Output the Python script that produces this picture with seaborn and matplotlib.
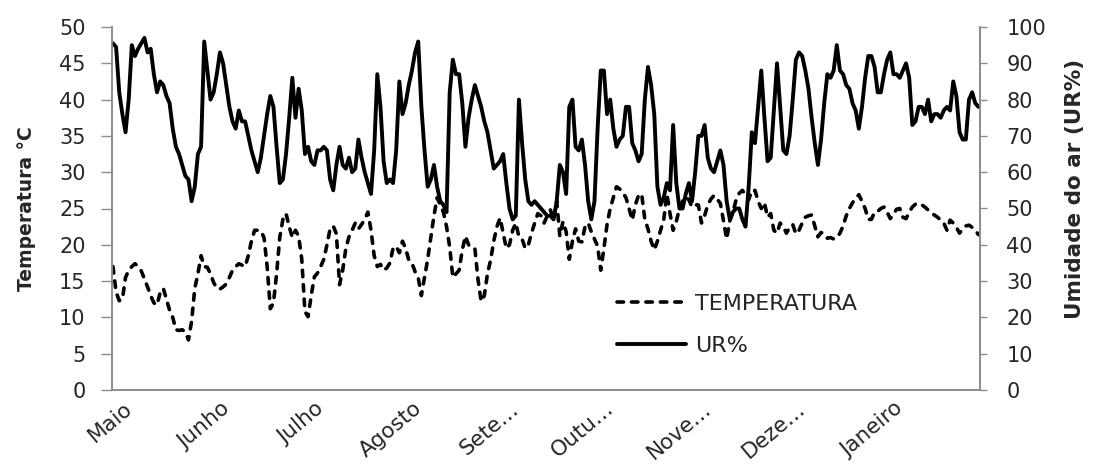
import numpy as np
import pandas as pd
import matplotlib
matplotlib.use("Agg")
import matplotlib.pyplot as plt
import matplotlib.transforms as mtransforms
import seaborn as sns

# ---------------- data ----------------
start_date = "2012-05-01"
end_date = "2013-01-31"

month_labels = ["Maio", "Junho", "Julho", "Agosto", "Sete\u2026", "Outu\u2026",
                "Nove\u2026", "Deze\u2026", "Janeiro"]
month_starts = ["2012-05-01", "2012-06-01", "2012-07-01", "2012-08-01", "2012-09-01",
                "2012-10-01", "2012-11-01", "2012-12-01", "2013-01-01"]

temperatura = [
    # Maio
    17, 13.5, 12.3, 12.5, 15.5, 16.5, 17, 17.4, 17, 16.4, 15.3, 14.2, 13, 12, 11.7, 13.4,
    14, 12.5, 11, 10, 8.3, 8.2, 8.3, 8, 6.9, 9.5, 14, 16, 18.5, 17, 16.9,
    # Junho
    16, 14.8, 14, 13.9, 14.2, 14.6, 15.5, 16.5, 17, 17.4, 17.2, 17, 18.5, 20.5, 22, 22,
    21.9, 21, 17, 11.2, 12, 16, 21, 23.5, 24.3, 22.5, 21, 22, 21.2, 18,
    # Julho
    10.8, 10.1, 13, 15.6, 16.1, 17, 18, 20, 22.2, 22.6, 21.5, 14.5, 16.5, 19.5, 21.1, 22,
    23, 22.2, 22.8, 23.5, 24.5, 22, 18.5, 17, 17.3, 16.5, 16.8, 17.5, 19.5, 19.8, 18.9,
    # Agosto
    20.5, 19.5, 17.9, 17.5, 16.3, 15.5, 13, 15.5, 18, 21, 24, 26.5, 25.5, 24.5, 22.5, 19.7,
    15.5, 16, 16.5, 19.3, 21.2, 20, 19.6, 19.5, 15.2, 12.2, 13, 16, 17.9, 20.5, 22.5,
    # Setembro
    23.7, 21.6, 19.5, 20, 22, 23, 21.1, 20.8, 19.5, 20, 21.6, 23, 24.3, 24, 23, 24,
    24.8, 23.4, 26, 21.2, 23.2, 21.8, 18, 20.5, 22.2, 20.5, 20.4, 22.5, 23, 21.8,
    # Outubro
    20.8, 19.8, 16.5, 19.5, 22.8, 25, 26.5, 28, 27.7, 27.2, 26.5, 25, 23.4, 25.5, 26.8, 27,
    23.5, 22.2, 20.5, 19.3, 20.5, 22, 23.4, 27, 24.3, 22, 23.2, 25, 26, 26.6, 26.2,
    # Novembro
    25.2, 25.5, 25.5, 23, 24, 25.5, 26.3, 26.8, 26.3, 25.7, 23.3, 20.8, 23.3, 24.5, 26.2, 27.1,
    27.5, 26.8, 26.2, 27.5, 27.5, 26, 25, 25.8, 23.8, 24.3, 22, 21.6, 23, 22.5,
    # Dezembro
    21.6, 22.4, 22.8, 21.5, 22, 23, 23.8, 24, 24.1, 22.6, 21.1, 21.7, 21.5, 20.9, 21, 20.8,
    21, 21.6, 22.6, 24, 25, 25.8, 26.4, 26.9, 26, 25, 23.5, 23.5, 24.5, 24.6, 25,
    # Janeiro
    25.2, 24.5, 23.6, 24.2, 24.9, 25, 23.8, 23.6, 24.5, 25.2, 25.6, 25.7, 25.5, 25.2, 24.8, 24.4,
    24.1, 23.8, 23.4, 23, 22, 23.4, 23, 22.4, 21.6, 22.2, 22.6, 22.7, 22.4, 22, 21.4,
]

umidade = [
    # Maio
    95.5, 94.5, 82, 76, 71, 80, 95, 92, 94, 95.5, 97, 93, 94, 87, 82, 85,
    84, 81, 79, 72, 67, 65, 62, 59, 58, 52, 56, 65, 67, 96, 88,
    # Junho
    80, 82, 87, 93, 90, 84, 78, 74, 72, 77, 74, 74, 70, 66, 63, 60,
    64, 70, 76, 81, 78, 67, 57, 58, 65, 75, 86, 75, 83, 77,
    # Julho
    65, 67, 63, 62, 66, 66, 67, 66, 58, 55, 62, 67, 62, 61, 64, 60,
    61, 69, 64, 60, 57, 54, 66, 87, 78, 63, 57, 58, 57, 66, 85,
    # Agosto
    76, 79, 84, 88, 93, 96, 78, 66, 56, 58, 62, 56, 52, 51, 49, 82,
    91, 87, 87, 79, 67, 75, 80, 84, 81, 78, 74, 71, 66, 61, 62,
    # Setembro
    63, 65, 57, 50, 47, 48, 80, 68, 58, 52, 51, 52, 51, 50, 49, 48,
    48, 47, 52, 62, 60, 54, 78, 80, 67, 66, 69, 62, 52, 47,
    # Outubro
    52, 72, 88, 88, 76, 80, 72, 67, 69, 70, 78, 78, 68, 66, 63, 65,
    80, 89, 84, 76, 56, 51, 53, 57, 55, 73, 57, 50, 50, 54, 57,
    # Novembro
    52, 60, 70, 70, 73, 64, 61, 60, 63, 66, 62, 52, 47, 49, 50, 50,
    47, 45, 56, 71, 68, 78, 88, 75, 63, 64, 77, 90, 78, 66,
    # Dezembro
    65, 70, 80, 91, 93, 92, 88, 83, 75, 68, 62, 69, 79, 87, 86, 88,
    95, 88, 87, 84, 83, 79, 77, 72, 78, 86, 92, 92, 89, 82, 82,
    # Janeiro
    87, 91, 93, 87, 87, 86, 88, 90, 86, 73, 74, 78, 78, 76, 80, 74,
    76, 76, 75, 77, 78, 77, 85, 81, 71, 69, 69, 80, 82, 79, 78,
]

temp_ticks = [0, 5, 10, 15, 20, 25, 30, 35, 40, 45, 50]
ur_ticks = [0, 10, 20, 30, 40, 50, 60, 70, 80, 90, 100]

# ---------------- figure ----------------
dates = pd.date_range(start_date, end_date, freq="D")
df = pd.DataFrame({"data": dates, "TEMPERATURA": temperatura, "UR%": umidade})

sns.set_style("white")
plt.rcParams["font.family"] = ["DejaVu Sans"]

fig = plt.figure(figsize=(10.97, 4.67), dpi=100)
ax = fig.add_axes([112 / 1097, 1 - 390 / 467, 868 / 1097, (390 - 27) / 467])
ax2 = ax.twinx()

spine_color = "#8c8c8c"

sns.lineplot(data=df, x="data", y="TEMPERATURA", ax=ax, color="black", linewidth=2.6,
             linestyle=(0, (1.8, 2.2)), dash_capstyle="round", label="TEMPERATURA",
             legend=False)
sns.lineplot(data=df, x="data", y="UR%", ax=ax2, color="black", linewidth=2.8,
             label="UR%", legend=False, solid_joinstyle="round")

for a in (ax, ax2):
    if a.get_legend() is not None:
        a.get_legend().remove()

ax.set_xlim(dates[0] - pd.Timedelta(days=0.3), dates[-1] + pd.Timedelta(days=0.5))
ax.set_ylim(0, 50)
ax2.set_ylim(0, 100)
ax.set_yticks(temp_ticks)
ax2.set_yticks(ur_ticks)
ax.set_yticklabels([str(t) for t in temp_ticks])
ax2.set_yticklabels([str(t) for t in ur_ticks])

ax.set_xlabel("")
ax.set_ylabel("Temperatura \u00b0C", fontsize=13.5, fontweight="bold")
ax2.set_ylabel("Umidade do ar (UR%)", fontsize=15.5, fontweight="bold")
ax.yaxis.set_label_coords(-0.088, 0.5)
ax2.yaxis.set_label_coords(1.098, 0.555)

ax.tick_params(axis="y", direction="out", length=8, width=1, color=spine_color,
               labelsize=15, pad=11, left=True)
ax2.tick_params(axis="y", direction="out", length=5, width=1, color=spine_color,
                labelsize=15, pad=14, right=True)
ax.tick_params(axis="x", length=0, pad=6)

ax.set_xticks(pd.to_datetime(month_starts))
ax.set_xticklabels(month_labels, rotation=40, ha="right", rotation_mode="anchor",
                   fontsize=15.5)
offset = mtransforms.ScaledTranslation(10 / 100, 0, fig.dpi_scale_trans)
for lbl in ax.get_xticklabels():
    lbl.set_transform(lbl.get_transform() + offset)

for a in (ax, ax2):
    a.spines["top"].set_visible(False)
    for s in ("left", "right", "bottom"):
        a.spines[s].set_color(spine_color)
        a.spines[s].set_linewidth(1.2)
    a.grid(False)

handles = ax.get_lines()[:1] + ax2.get_lines()[:1]
labels = ["TEMPERATURA", "UR%"]
ax2.legend(handles, labels, loc="upper left", bbox_to_anchor=(617 / 1097, 1 - 294 / 467),
           bbox_transform=fig.transFigure, frameon=False, fontsize=16,
           handlelength=3.1, handletextpad=0.4, labelspacing=1.0, borderpad=0,
           borderaxespad=0)

fig.savefig("out.png", dpi=100)
